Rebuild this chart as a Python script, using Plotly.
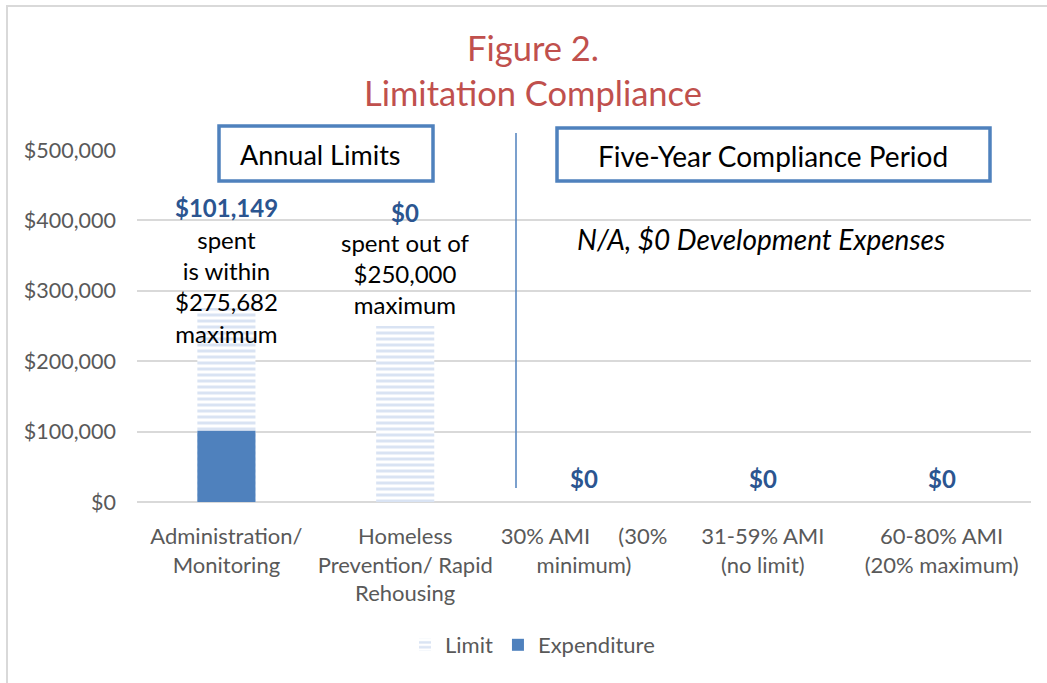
import plotly.graph_objects as go

categories = ["Administration/<br>Monitoring", "Homeless<br>Prevention/ Rapid<br>Rehousing",
              "30% AMI     (30%<br>minimum)", "31-59% AMI<br>(no limit)", "60-80% AMI<br>(20% maximum)"]
limit_values = [275682, 250000, None, None, None]
expenditure_values = [101149, 0, 0, 0, 0]
value_labels = ["$101,149", "$0", "$0", "$0", "$0"]
value_label_y = [418000, 411000, 34000, 34000, 34000]
y_ticks = [0, 100000, 200000, 300000, 400000, 500000]
y_tick_labels = ["$0", "$100,000", "$200,000", "$300,000", "$400,000", "$500,000"]

FONT = "Lato"
BLUE = "#4F81BD"
DARK = "#2B5590"

W, H = 1047, 683
L, R, T, B = 137, 16, 150, 181
PW, PH = W - L - R, H - T - B

fig = go.Figure()
fig.add_trace(go.Bar(
    x=categories, y=limit_values, name="Limit",
    width=0.325,
    marker=dict(color="white", line=dict(width=0),
                pattern=dict(shape="-", fgcolor="#B4C7E7", bgcolor="white", size=6, solidity=0.5)),
))
fig.add_trace(go.Bar(
    x=categories, y=expenditure_values, name="Expenditure",
    width=0.325, marker=dict(color=BLUE, line=dict(width=0)),
))

annotations = []
for txt, cx, yv in zip(value_labels, categories, value_label_y):
    annotations.append(dict(x=cx, y=yv, xref="x", yref="y", text=f"<b>{txt}</b>", showarrow=False,
                            font=dict(family=FONT, size=24, color=DARK)))
annotations.append(dict(x=categories[0], y=306800, xref="x", yref="y",
                        text="spent<br>is within<br>$275,682<br>maximum", showarrow=False,
                        font=dict(family=FONT, size=24, color="black")))
annotations.append(dict(x=categories[1], y=323900, xref="x", yref="y",
                        text="spent out of<br>$250,000<br>maximum", showarrow=False,
                        font=dict(family=FONT, size=24, color="black")))


def px_x(p):
    return (p - L) / PW


def px_y(p):
    return (H - B - p) / PH


annotations.append(dict(x=px_x(761), y=373600, xref="paper", yref="y",
                        text="<i>N/A, $0 Development Expenses</i>", showarrow=False,
                        xanchor="center", yanchor="middle",
                        font=dict(family=FONT, size=28, color="black")))
annotations.append(dict(x=px_x(320), y=px_y(154), xref="paper", yref="paper", text="Annual Limits",
                        xanchor="center", yanchor="middle", showarrow=False,
                        font=dict(family=FONT, size=27, color="black")))
annotations.append(dict(x=px_x(773), y=px_y(156), xref="paper", yref="paper",
                        text="Five-Year Compliance Period", xanchor="center", yanchor="middle",
                        showarrow=False, font=dict(family=FONT, size=28, color="black")))

fig.update_layout(
    width=W, height=H,
    paper_bgcolor="white", plot_bgcolor="white",
    margin=dict(l=L, r=R, t=T, b=B),
    barmode="overlay",
    title=dict(text="Figure 2.<br>Limitation Compliance", x=533 / W, xanchor="center",
               y=1 - 61 / H, yanchor="middle",
               font=dict(family=FONT, size=34.5, color="#C0504D")),
    xaxis=dict(type="category", showgrid=False, showline=False, ticks="",
               tickfont=dict(family=FONT, size=22, color="#595959"), range=[-0.5, 4.5],
               ticklabelstandoff=19),
    yaxis=dict(range=[0, 500000], tickvals=y_ticks, ticktext=y_tick_labels,
               showgrid=True, gridcolor="#D9D9D9", gridwidth=1.5, zeroline=True,
               zerolinecolor="#D9D9D9", zerolinewidth=1.5,
               tickfont=dict(family=FONT, size=21.5, color="#595959"), ticklabelstandoff=20),
    legend=dict(orientation="h", x=px_x(405), xanchor="left", y=px_y(645), yanchor="middle",
                font=dict(family=FONT, size=22, color="#595959"), traceorder="normal"),
    annotations=annotations,
    showlegend=True,
)

# frame of the chart (left and top edges visible)
fig.add_shape(type="rect", xref="paper", yref="paper",
              x0=px_x(7), x1=px_x(1060), y0=px_y(700), y1=px_y(6),
              line=dict(color="#D9D9D9", width=2))

# boxes
fig.add_shape(type="rect", xref="paper", yref="paper",
              x0=px_x(219), x1=px_x(433), y0=px_y(181), y1=px_y(126),
              line=dict(color=BLUE, width=3.5), fillcolor="white", layer="above")
fig.add_shape(type="rect", xref="paper", yref="paper",
              x0=px_x(557), x1=px_x(990), y0=px_y(181), y1=px_y(128),
              line=dict(color=BLUE, width=3.5), fillcolor="white", layer="above")
# separator line
fig.add_shape(type="line", xref="paper", yref="paper",
              x0=px_x(516), x1=px_x(516), y0=px_y(488), y1=px_y(133),
              line=dict(color=BLUE, width=1.5))

fig.write_html("out.html", config={"displayModeBar": False},
               post_script="document.body.style.margin='0px';")
